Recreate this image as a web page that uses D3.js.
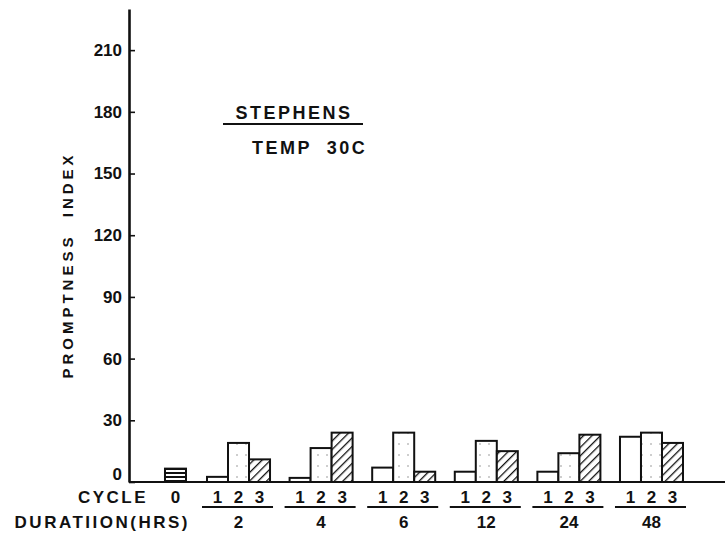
<!DOCTYPE html>
<html>
<head>
<meta charset="utf-8">
<script src="https://cdn.jsdelivr.net/npm/d3@7"></script>
<style>
  html, body { margin: 0; padding: 0; background: #fff; }
  svg { display: block; }
  text { font-family: "Liberation Sans", Arial, sans-serif; font-weight: bold; fill: #111; }
</style>
</head>
<body>
<svg id="chart" width="725" height="536"></svg>
<script>
// Promptness index by exposure duration and cycle (Stephens, 30 C)
const durations = ["2", "4", "6", "12", "24", "48"];
const cycles = ["1", "2", "3"];
const cycle0Value = [6.5];
const cycle1Values = [2.5, 2, 7, 5, 5, 22];
const cycle2Values = [19, 16.5, 24, 20, 14, 24];
const cycle3Values = [11, 24, 5, 15, 23, 19];
const yTicks = [0, 30, 60, 90, 120, 150, 180, 210];

const svg = d3.select("#chart");
const ink = "#111";

const baseY = 482, topY = 9, axisX = 129;
const y = d3.scaleLinear().domain([0, 230]).range([baseY, topY]);

const x0 = d3.scaleBand().domain(durations).range([207, 683]).paddingInner(0.237).paddingOuter(0);
const x1 = d3.scaleBand().domain(cycles).range([0, x0.bandwidth()]);

// fill patterns
const defs = svg.append("defs");
const pH = defs.append("pattern").attr("id", "hlines").attr("patternUnits", "userSpaceOnUse")
  .attr("width", 6).attr("height", 4);
pH.append("rect").attr("width", 6).attr("height", 4).attr("fill", "#fff");
pH.append("line").attr("x1", 0).attr("x2", 6).attr("y1", 1).attr("y2", 1)
  .attr("stroke", ink).attr("stroke-width", 2);

const pD = defs.append("pattern").attr("id", "dots").attr("patternUnits", "userSpaceOnUse")
  .attr("width", 9).attr("height", 11);
pD.append("rect").attr("width", 9).attr("height", 11).attr("fill", "#fff");
pD.append("circle").attr("cx", 3).attr("cy", 4).attr("r", 0.7).attr("fill", "#777");

const pX = defs.append("pattern").attr("id", "hatch").attr("patternUnits", "userSpaceOnUse")
  .attr("width", 6).attr("height", 6).attr("patternTransform", "rotate(45)");
pX.append("rect").attr("width", 6).attr("height", 6).attr("fill", "#fff");
pX.append("line").attr("x1", 0).attr("x2", 0).attr("y1", 0).attr("y2", 6)
  .attr("stroke", ink).attr("stroke-width", 2.6);

const fills = { "1": "#fff", "2": "url(#dots)", "3": "url(#hatch)" };
const seriesByCycle = { "1": cycle1Values, "2": cycle2Values, "3": cycle3Values };

// baseline
svg.append("line")
  .attr("x1", axisX).attr("x2", 725).attr("y1", y(0)).attr("y2", y(0))
  .attr("stroke", ink).attr("stroke-width", 2.2);

// cycle 0 bar, placed just left of the first duration group
const bw = x1.bandwidth();
const c0x = x0(durations[0]) - 2 * bw;
svg.append("rect")
  .attr("x", c0x).attr("y", y(cycle0Value[0]))
  .attr("width", bw).attr("height", y(0) - y(cycle0Value[0]))
  .attr("fill", "url(#hlines)").attr("stroke", ink).attr("stroke-width", 2);

// grouped bars
const rows = [];
durations.forEach((d, i) => cycles.forEach(c => rows.push({ d, c, v: seriesByCycle[c][i] })));
svg.append("g").selectAll("rect").data(rows).join("rect")
  .attr("x", r => x0(r.d) + x1(r.c))
  .attr("y", r => y(r.v))
  .attr("width", bw)
  .attr("height", r => y(0) - y(r.v))
  .attr("fill", r => fills[r.c])
  .attr("stroke", ink).attr("stroke-width", 2);

// y axis
const yAxis = d3.axisLeft(y).tickValues(yTicks).tickSizeInner(-6).tickSizeOuter(0).tickPadding(7);
const ga = svg.append("g").attr("transform", `translate(${axisX},0)`).call(yAxis);
ga.select(".domain").attr("stroke", ink).attr("stroke-width", 2.6);
ga.selectAll(".tick line").attr("stroke", ink).attr("stroke-width", 1.6);
ga.selectAll(".tick text")
  .attr("font-size", 17).attr("font-family", "Liberation Sans, Arial, sans-serif")
  .attr("font-weight", "bold").attr("fill", ink)
  .attr("dy", v => v === 0 ? "-0.15em" : "0.32em");

// y axis title
svg.append("text")
  .attr("transform", `translate(73,265) rotate(-90)`)
  .attr("text-anchor", "middle").attr("font-size", 15)
  .style("letter-spacing", "4px").style("white-space", "pre")
  .text("PROMPTNESS  INDEX");

// cycle labels row
const cycY = 503, durY = 528;
svg.append("text").attr("x", 148).attr("y", cycY).attr("text-anchor", "end")
  .attr("font-size", 17).style("letter-spacing", "2.5px").text("CYCLE");
svg.append("text").attr("x", c0x + bw / 2).attr("y", cycY).attr("text-anchor", "middle")
  .attr("font-size", 17).text("0");

svg.append("g").selectAll("text").data(rows).join("text")
  .attr("x", r => x0(r.d) + x1(r.c) + bw / 2)
  .attr("y", cycY).attr("text-anchor", "middle").attr("font-size", 17)
  .text(r => r.c);

svg.append("g").selectAll("line").data(durations).join("line")
  .attr("x1", d => x0(d) - 5).attr("x2", d => x0(d) + x0.bandwidth() + 3)
  .attr("y1", 507).attr("y2", 507)
  .attr("stroke", ink).attr("stroke-width", 2);

// duration labels row
svg.append("text").attr("x", 190).attr("y", durY).attr("text-anchor", "end")
  .attr("font-size", 17).style("letter-spacing", "2.5px").text("DURATIION(HRS)");
svg.append("g").selectAll("text").data(durations).join("text")
  .attr("x", d => x0(d) + x0.bandwidth() / 2)
  .attr("y", durY).attr("text-anchor", "middle").attr("font-size", 17)
  .text(d => d);

// legend title block
svg.append("text").attr("x", 294).attr("y", 119).attr("text-anchor", "middle")
  .attr("font-size", 18).style("letter-spacing", "2.5px").text("STEPHENS");
svg.append("line").attr("x1", 223).attr("x2", 363).attr("y1", 124).attr("y2", 124)
  .attr("stroke", ink).attr("stroke-width", 2);
svg.append("text").attr("x", 252).attr("y", 154)
  .attr("font-size", 18).style("letter-spacing", "2.5px").style("white-space", "pre")
  .text("TEMP  30C");
</script>
</body>
</html>
